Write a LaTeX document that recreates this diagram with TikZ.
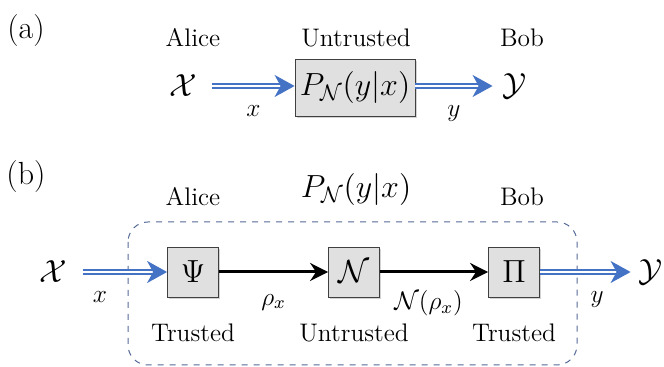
\RequirePackage{fix-cm}
\documentclass[tikz,border=0pt]{standalone}
\usepackage{amsmath,amssymb}
\usepackage{fontspec}
\usepackage{tikz}
\usetikzlibrary{arrows.meta,positioning,calc,shadows}
\definecolor{qblue}{RGB}{68,114,196}
\definecolor{frameblue}{RGB}{84,106,152}
\tikzset{
  chan/.style={rectangle, draw=black!75, fill=black!12, inner sep=2pt,
               font=\fontsize{16}{19}\selectfont,
               drop shadow={shadow xshift=0.8pt, shadow yshift=-0.8pt, opacity=0.35}},
  op/.style={chan, minimum width=25.5pt, minimum height=25pt},
  lab/.style={inner sep=1pt},
  big/.style={inner sep=1pt, font=\fontsize{16}{19}\selectfont},
  classic/.style={draw=qblue, double=white, double distance=1.1pt, line width=0.75pt,
                  -{Stealth[length=10pt, width=11pt, inset=3pt]}},
  quant/.style={line width=1.5pt, -{Stealth[length=9pt, width=9pt, inset=3pt]}},
}

\begin{document}
\begin{tikzpicture}[x=0.5pt, y=-0.5pt, font=\fontsize{12.7}{15}\selectfont]
\useasboundingbox (0,0) rectangle (664,367);
% (a) classical channel
\node[big] (taga) at (26,31) {(a)};
\node[lab] (alicea) at (193,38) {Alice};
\node[lab] (untra) at (356,38) {Untrusted};
\node[lab] (boba) at (522,38) {Bob};
\node[big] (Xa) at (183,86) {$\mathcal{X}$};
\node[chan, minimum width=60pt, minimum height=28.5pt] (P) at (355,88) {$P_{\mathcal{N}}(y|x)$};
\node[big] (Ya) at (515,86) {$\mathcal{Y}$};
\draw[classic] (Xa.east) ++(13,0) coordinate (xa0) -- (xa0 -| P.west) node[midway, below=6pt] {$x$};
\draw[classic] (P.east |- Xa) -- ($(Ya.west)+(-8,0)$) node[midway, below=6pt] {$y$};
% (b) quantum implementation
\node[big] (tagb) at (26,177) {(b)};
\node[lab] (aliceb) at (193,197) {Alice};
\node[big] (prob) at (356,190) {$P_{\mathcal{N}}(y|x)$};
\node[lab] (bobb) at (522,197) {Bob};
\draw[frameblue, dashed, line width=0.5pt, rounded corners=10pt] (128,222) rectangle (577,365);
\node[big] (Xb) at (53,272) {$\mathcal{X}$};
\node[op] (enc) at (193,272) {$\Psi$};
\node[op] (chn) at (354,272) {$\mathcal{N}$};
\node[op] (dec) at (514,272) {$\Pi$};
\node[big] (Yb) at (651,272) {$\mathcal{Y}$};
\draw[classic] ($(Xb.east)+(14,0)$) -- (enc.west) node[pos=0.2, below=6pt] {$x$};
\draw[quant] (enc) -- (chn) node[midway, below=7pt] {$\rho_x$};
\draw[quant] (chn) -- (dec) node[pos=0.45, below=5pt] {$\mathcal{N}(\rho_x)$};
\draw[classic] (dec.east) -- ($(Yb.west)+(-6,0)$) node[pos=0.63, below=6pt] {$y$};
\node[lab] (tr1) at (193,333) {Trusted};
\node[lab] (untr) at (354,333) {Untrusted};
\node[lab] (tr2) at (514,333) {Trusted};
\end{tikzpicture}
\end{document}
